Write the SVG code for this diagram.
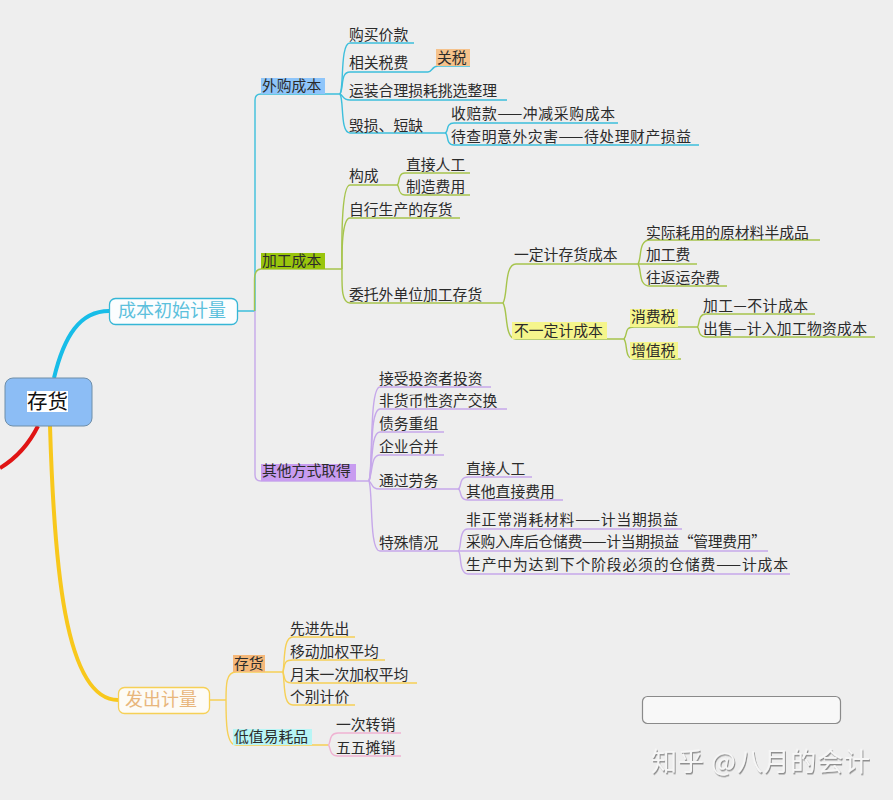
<svg xmlns="http://www.w3.org/2000/svg" width="893" height="800" viewBox="0 0 893 800">
<defs>
<filter id="wm" x="-5%" y="-20%" width="110%" height="150%"><feDropShadow dx="1" dy="1.5" stdDeviation="0.6" flood-color="#777" flood-opacity="0.8"/></filter>
</defs>
<style>
text{font-family:"Noto Sans CJK SC","Noto Sans",sans-serif;font-size:14.8px;fill:#2b2b2b}
path{fill:none;stroke-width:1.4}
.c{stroke:#3dbfdc}.g{stroke:#a6c44c}.p{stroke:#c6a8ea}.y{stroke:#f6d056}.k{stroke:#efb2d2}
.big{font-size:18px}
</style>
<rect width="893" height="800" fill="#eeeeee"/>
<g id="connectors">
<path d="M54 378C64 336 80 311 109 311" stroke="#17bde8" style="stroke-width:4"/>
<path d="M38 426C28 446 15 459 0 468" stroke="#e01414" style="stroke-width:4"/>
<path d="M50 426C54 560 64 700 118 700" stroke="#f8c81c" style="stroke-width:4"/>
<path class="c" d="M237 311H255M255 311V100Q255 94 261 94H340"/>
<path class="c" d="M340 94C344 88 340 43 350 43H414"/>
<path class="c" d="M340 94C344 88 340 72 350 72H428C432 72 432 66 438 66H470"/>
<path class="c" d="M340 94C344 96 342 100 350 100H507"/>
<path class="c" d="M340 94C344 100 340 133 350 133H445"/>
<path class="c" d="M445 133C449 133 445 123 454 123H618"/>
<path class="c" d="M445 133C449 133 445 145 454 145H699"/>
<path class="p" d="M255 311V475Q255 481 261 481H369"/>
<path class="g" d="M254.500 311V280Q254.500 269 261 269H342"/>
<path class="g" d="M342 269C342 262 340 185 350 185H397"/>
<path class="g" d="M397 185C400 185 397 173 405 173H470"/>
<path class="g" d="M397 185C400 185 397 195 405 195H470"/>
<path class="g" d="M342 269C342 260 341 218 350 218H460"/>
<path class="g" d="M342 269C342 285 341 303 350 303H503"/>
<path class="g" d="M503 303C508 296 504 264 516 264H638"/>
<path class="g" d="M503 303C508 310 504 339 516 339H624"/>
<path class="g" d="M638 264C642 258 638 240 650 240H820"/>
<path class="g" d="M638 264H697"/>
<path class="g" d="M638 264C642 270 638 286 650 286H727"/>
<path class="g" d="M624 339C628 334 624 327 634 327H697"/>
<path class="g" d="M624 339C628 344 624 359 634 359H681"/>
<path class="g" d="M697 327C700 327 697 314 706 314H815"/>
<path class="g" d="M697 327C700 327 697 337 706 337H875"/>
<path class="p" d="M369 481C373 470 369 387 380 387H491"/>
<path class="p" d="M369 481C373 470 369 409 380 409H507"/>
<path class="p" d="M369 481C373 470 370 432 380 432H444"/>
<path class="p" d="M369 481C373 470 371 455 380 455H444"/>
<path class="p" d="M369 481C373 484 371 489 380 489H458"/>
<path class="p" d="M369 481C373 492 369 551 380 551H458"/>
<path class="p" d="M458 489C462 489 458 477 468 477H532"/>
<path class="p" d="M458 489C462 489 458 500 468 500H563"/>
<path class="p" d="M458 551C462 551 458 529 468 529H682"/>
<path class="p" d="M458 551H768"/>
<path class="p" d="M458 551C462 551 458 574 468 574H790"/>
<path class="y" d="M209 700H226M226 700C226 685 226 672 236 672H283"/>
<path class="y" d="M226 700C226 720 226 745 236 745H328"/>
<path class="y" d="M283 672C285 660 283 637 293 637H355"/>
<path class="y" d="M283 672C285 665 283 660 293 660H385"/>
<path class="y" d="M283 672C285 678 283 683 293 683H417"/>
<path class="y" d="M283 672C285 685 283 705 293 705H355"/>
<path class="k" d="M328 745C331 745 328 733 338 733H401"/>
<path class="k" d="M328 745C331 745 328 756 338 756H401"/>
</g>
<g id="root"><rect x="5" y="378" width="87" height="48" rx="8" fill="#8cbdf5" stroke="#6f8ea8"/><rect x="27" y="391" width="41" height="21" fill="#fff"/><text x="27" y="409" style="font-size:20.500px;fill:#111">存货</text></g>
<g id="n-chengben"><rect x="109.500" y="298.500" width="128" height="26" rx="6" fill="#fbfdfe" stroke="#35b6d6" stroke-width="1.300"/><text class="big" x="118" y="317" style="fill:#5cc0dc">成本初始计量</text></g>
<g id="n-fachu"><rect x="118.500" y="687.500" width="91" height="26" rx="6" fill="#fdfbf6" stroke="#f6d056" stroke-width="1.300"/><text class="big" x="125" y="706" style="fill:#e8b67c">发出计量</text></g>
<g id="n-waigou"><rect x="261" y="78" width="64" height="16" fill="#8ec5fa"/><text x="262" y="91">外购成本</text></g>
<g id="n-goumai"><text x="349" y="39.500">购买价款</text></g>
<g id="n-xiangguan"><text x="349" y="67.500">相关税费</text></g>
<g id="n-guanshui"><rect x="436" y="49" width="34" height="17" fill="#f5c28c"/><text x="437" y="62.500">关税</text></g>
<g id="n-yunzhuang"><text x="349" y="96">运装合理损耗挑选整理</text></g>
<g id="n-huisun"><text x="349" y="131">毁损、短缺</text></g>
<g id="n-shoupei"><text x="451" y="119" textLength="164" lengthAdjust="spacing">收赔款——冲减采购成本</text></g>
<g id="n-daicha"><text x="451" y="142" textLength="240" lengthAdjust="spacing">待查明意外灾害——待处理财产损益</text></g>
<g id="n-jiagong"><rect x="261" y="253" width="64" height="16" fill="#99c50c"/><text x="262" y="266">加工成本</text></g>
<g id="n-goucheng"><text x="349" y="181">构成</text></g>
<g id="n-rengong1"><text x="406" y="170">直接人工</text></g>
<g id="n-zhizao"><text x="406" y="192">制造费用</text></g>
<g id="n-zixing"><text x="349" y="215">自行生产的存货</text></g>
<g id="n-weituo"><text x="349" y="300">委托外单位加工存货</text></g>
<g id="n-yiding"><text x="514" y="260">一定计存货成本</text></g>
<g id="n-shiji"><text x="646" y="238">实际耗用的原材料半成品</text></g>
<g id="n-jiagongfei"><text x="646" y="260">加工费</text></g>
<g id="n-wangfan"><text x="646" y="283">往返运杂费</text></g>
<g id="n-buyiding"><rect x="512" y="322" width="95" height="17" fill="#f5f58c"/><text x="514" y="336">不一定计成本</text></g>
<g id="n-xiaofei"><rect x="630" y="309" width="48" height="18" fill="#f5f58c"/><text x="631" y="322">消费税</text></g>
<g id="n-zengzhi"><rect x="630" y="342" width="48" height="17" fill="#f5f58c"/><text x="631" y="356">增值税</text></g>
<g id="n-jiagong2"><text x="703" y="311" textLength="105" lengthAdjust="spacing">加工—不计成本</text></g>
<g id="n-chushou"><text x="703" y="334" textLength="164" lengthAdjust="spacing">出售—计入加工物资成本</text></g>
<g id="n-qita"><rect x="261" y="464" width="95" height="17" fill="#c89cf0"/><text x="262" y="476">其他方式取得</text></g>
<g id="n-jieshou"><text x="379" y="384">接受投资者投资</text></g>
<g id="n-feihuobi"><text x="379" y="406">非货币性资产交换</text></g>
<g id="n-zhaiwu"><text x="379" y="429">债务重组</text></g>
<g id="n-qiye"><text x="379" y="452">企业合并</text></g>
<g id="n-tongguo"><text x="379" y="486">通过劳务</text></g>
<g id="n-teshu"><text x="379" y="548">特殊情况</text></g>
<g id="n-rengong2"><text x="466" y="474">直接人工</text></g>
<g id="n-qitazhijie"><text x="466" y="497">其他直接费用</text></g>
<g id="n-feizheng"><text x="466" y="525" textLength="212" lengthAdjust="spacing">非正常消耗材料——计当期损益</text></g>
<g id="n-caigou"><text x="466" y="547" textLength="300" lengthAdjust="spacing">采购入库后仓储费——计当期损益“管理费用”</text></g>
<g id="n-shengchan"><text x="466" y="570" textLength="322" lengthAdjust="spacing">生产中为达到下个阶段必须的仓储费——计成本</text></g>
<g id="n-cunhuo2"><rect x="233" y="655" width="32" height="17" fill="#f5b87a"/><text x="234" y="669">存货</text></g>
<g id="n-dizhi"><rect x="233" y="729" width="79" height="16" fill="#b8f5f5"/><text x="234" y="742">低值易耗品</text></g>
<g id="n-xianjin"><text x="290" y="634">先进先出</text></g>
<g id="n-yidong"><text x="290" y="657">移动加权平均</text></g>
<g id="n-yuemo"><text x="290" y="680">月末一次加权平均</text></g>
<g id="n-gebie"><text x="290" y="702">个别计价</text></g>
<g id="n-yici"><text x="336" y="730">一次转销</text></g>
<g id="n-wuwu"><text x="336" y="753">五五摊销</text></g>
<g id="n-empty"><rect x="642.500" y="696.500" width="198" height="27" rx="5" fill="#f8f8f8" stroke="#8a8a8a" stroke-width="1.200"/></g>
<text x="651" y="771" filter="url(#wm)" textLength="219" lengthAdjust="spacing" style="font-size:26px;fill:#f6f6f6">知乎 @八月的会计</text>
</svg>
